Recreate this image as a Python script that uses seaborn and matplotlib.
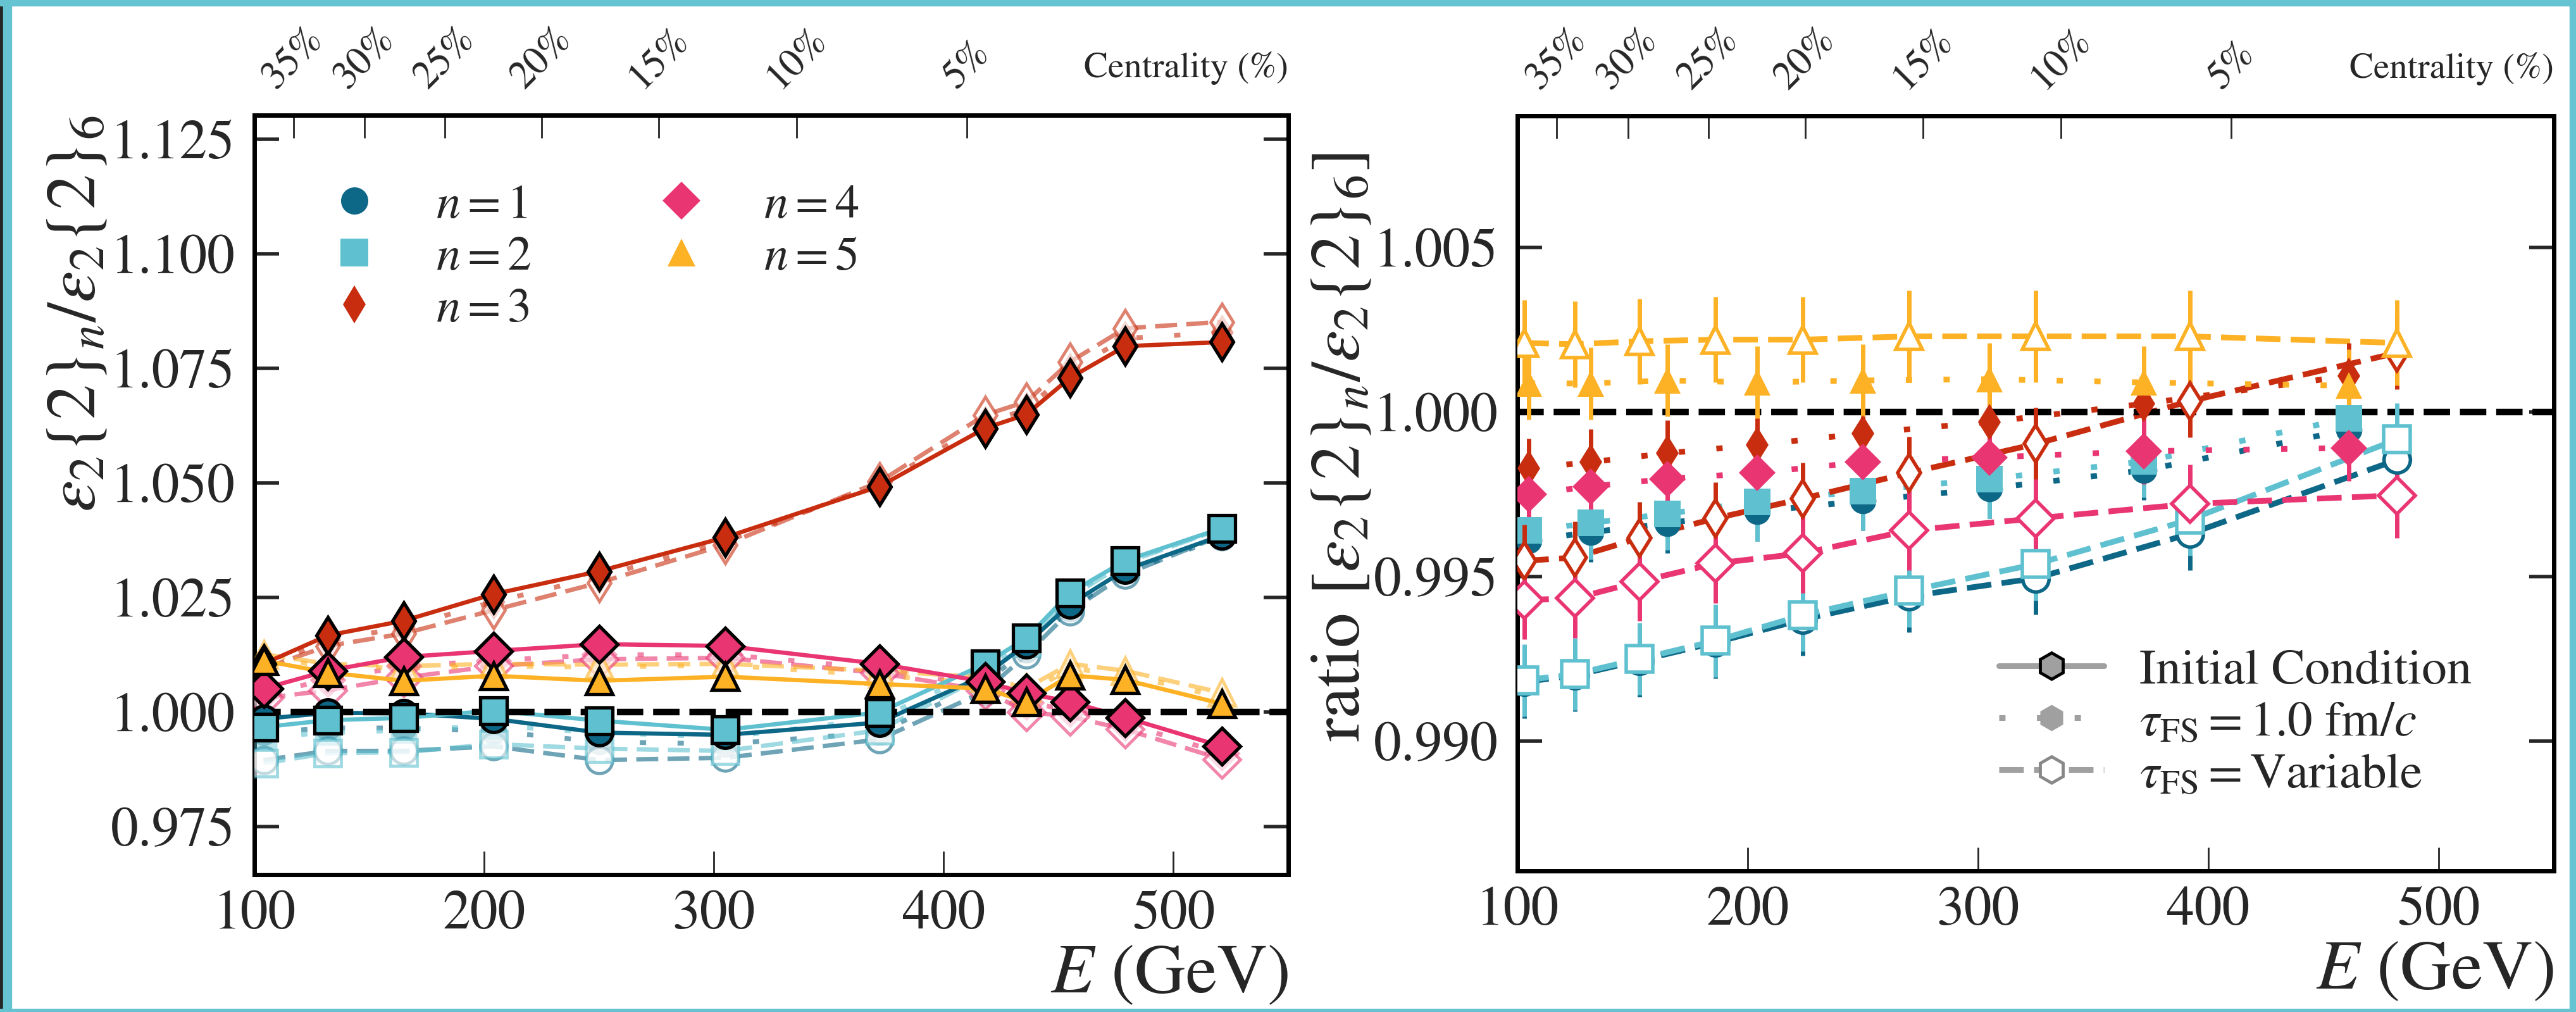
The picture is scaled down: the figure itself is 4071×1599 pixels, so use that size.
import matplotlib
matplotlib.use('Agg')
import matplotlib.pyplot as plt
import seaborn as sns
from matplotlib.lines import Line2D
from matplotlib.patches import Rectangle
from matplotlib.colors import to_rgba

# ---------------- data ----------------
E_left = [104, 132, 165, 204, 250, 305, 372, 418, 436, 455, 479, 521]

n1_ic   = [0.9985, 0.9998, 0.9997, 0.9985, 0.9955, 0.9950, 0.9977, 1.0080, 1.0148, 1.0235, 1.0310, 1.0385]
n1_tau  = [0.9955, 0.9965, 0.9965, 0.9958, 0.9935, 0.9930, 0.9955, 1.0065, 1.0135, 1.0225, 1.0305, 1.0380]
n1_var  = [0.9895, 0.9915, 0.9915, 0.9925, 0.9895, 0.9900, 0.9940, 1.0045, 1.0125, 1.0220, 1.0300, 1.0385]

n2_ic   = [0.9967, 0.9982, 0.9987, 1.0003, 0.9981, 0.9961, 0.9999, 1.0105, 1.0161, 1.0260, 1.0330, 1.0401]
n2_tau  = [0.9945, 0.9955, 0.9960, 0.9970, 0.9955, 0.9945, 0.9985, 1.0095, 1.0155, 1.0255, 1.0328, 1.0400]
n2_var  = [0.9888, 0.9910, 0.9912, 0.9930, 0.9920, 0.9915, 0.9960, 1.0080, 1.0150, 1.0250, 1.0325, 1.0400]

n3_ic   = [1.0105, 1.0167, 1.0199, 1.0257, 1.0307, 1.0381, 1.0492, 1.0619, 1.0649, 1.0729, 1.0798, 1.0807]
n3_tau  = [1.0100, 1.0155, 1.0185, 1.0240, 1.0295, 1.0372, 1.0497, 1.0630, 1.0660, 1.0745, 1.0815, 1.0828]
n3_var  = [1.0095, 1.0144, 1.0171, 1.0222, 1.0282, 1.0365, 1.0502, 1.0648, 1.0677, 1.0764, 1.0837, 1.0851]

n4_ic   = [1.0051, 1.0090, 1.0120, 1.0133, 1.0148, 1.0144, 1.0105, 1.0066, 1.0041, 1.0022, 0.9988, 0.9925]
n4_tau  = [1.0040, 1.0070, 1.0100, 1.0112, 1.0125, 1.0125, 1.0095, 1.0055, 1.0020, 1.0005, 0.9975, 0.9910]
n4_var  = [1.0030, 1.0047, 1.0075, 1.0100, 1.0115, 1.0118, 1.0085, 1.0047, 1.0000, 0.9990, 0.9962, 0.9897]

n5_ic   = [1.0112, 1.0086, 1.0068, 1.0079, 1.0068, 1.0077, 1.0061, 1.0051, 1.0022, 1.0080, 1.0070, 1.0018]
n5_tau  = [1.0118, 1.0100, 1.0095, 1.0100, 1.0098, 1.0102, 1.0080, 1.0062, 1.0040, 1.0095, 1.0082, 1.0032]
n5_var  = [1.0126, 1.0105, 1.0100, 1.0105, 1.0103, 1.0105, 1.0090, 1.0075, 1.0052, 1.0105, 1.0090, 1.0042]

# ratio panel
E_tau = [105, 132, 165, 204, 250, 305, 372, 461]
r1_tau = [0.99610, 0.99635, 0.99662, 0.99698, 0.99730, 0.99768, 0.99823, 0.99946]
r2_tau = [0.99640, 0.99663, 0.99691, 0.99728, 0.99760, 0.99797, 0.99850, 0.99981]
r3_tau = [0.99829, 0.99848, 0.99875, 0.99900, 0.99935, 0.99970, 1.00025, 1.00110]
r4_tau = [0.99751, 0.99774, 0.99797, 0.99815, 0.99848, 0.99862, 0.99881, 0.99891]
r5_tau = [1.00087, 1.00087, 1.00096, 1.00090, 1.00096, 1.00100, 1.00090, 1.00080]
e1_tau = [0.0009, 0.0009, 0.0009, 0.0009, 0.0009, 0.0009, 0.0009, 0.0009]
e2_tau = [0.0011, 0.0011, 0.0011, 0.0012, 0.0012, 0.0012, 0.0011, 0.0011]
e3_tau = [0.0009, 0.0010, 0.0010, 0.0010, 0.0010, 0.0010, 0.0010, 0.0010]
e4_tau = [0.0010, 0.0010, 0.0010, 0.0010, 0.0010, 0.0010, 0.0010, 0.0010]
e5_tau = [0.0011, 0.0011, 0.0011, 0.0011, 0.0011, 0.0011, 0.0011, 0.0011]

E_var = [103, 125, 153, 186, 224, 270, 325, 392, 482]
r1_var = [0.99180, 0.99200, 0.99245, 0.99300, 0.99370, 0.99440, 0.99495, 0.99630, 0.99855]
r2_var = [0.99185, 0.99204, 0.99250, 0.99305, 0.99383, 0.99457, 0.99538, 0.99673, 0.99917]
r3_var = [0.99548, 0.99558, 0.99617, 0.99677, 0.99737, 0.99815, 0.99903, 1.00033, 1.00180]
r4_var = [0.99429, 0.99434, 0.99485, 0.99540, 0.99571, 0.99640, 0.99677, 0.99721, 0.99747]
r5_var = [1.00210, 1.00206, 1.00215, 1.00220, 1.00220, 1.00230, 1.00230, 1.00230, 1.00210]
e1_var = [0.0011, 0.0011, 0.0011, 0.0011, 0.0011, 0.0011, 0.0011, 0.0011, 0.0011]
e2_var = [0.0011, 0.0011, 0.0011, 0.0011, 0.0011, 0.0011, 0.0011, 0.0011, 0.0011]
e3_var = [0.0011, 0.0011, 0.0011, 0.0011, 0.0011, 0.0011, 0.0011, 0.0011, 0.0011]
e4_var = [0.0012, 0.0012, 0.0012, 0.0012, 0.0012, 0.0012, 0.0012, 0.0012, 0.0013]
e5_var = [0.0013, 0.0013, 0.0013, 0.0013, 0.0013, 0.0014, 0.0014, 0.0014, 0.0013]

cent_E = [117, 148, 183, 225, 276, 336, 410]
cent_labels = ['35%', '30%', '25%', '20%', '15%', '10%', '5%']

n_values = [1, 2, 3, 4, 5]
colors = ['#0d6786', '#5fc1d0', '#c92d0f', '#e93572', '#fdb124']
markers = ['o', 's', 'd', 'D', '^']

left_ic = [n1_ic, n2_ic, n3_ic, n4_ic, n5_ic]
left_tau = [n1_tau, n2_tau, n3_tau, n4_tau, n5_tau]
left_var = [n1_var, n2_var, n3_var, n4_var, n5_var]
right_tau = [r1_tau, r2_tau, r3_tau, r4_tau, r5_tau]
right_tau_err = [e1_tau, e2_tau, e3_tau, e4_tau, e5_tau]
right_var = [r1_var, r2_var, r3_var, r4_var, r5_var]
right_var_err = [e1_var, e2_var, e3_var, e4_var, e5_var]

# ---------------- style ----------------
sns.set_theme(style='ticks')
plt.rcParams['font.family'] = ['STIXGeneral', 'DejaVu Serif']
plt.rcParams['mathtext.fontset'] = 'stix'
plt.rcParams['axes.linewidth'] = 5
plt.rcParams['lines.dash_capstyle'] = 'butt'

W, H = 4071, 1599
fig = plt.figure(figsize=(W / 100, H / 100), dpi=100)
fig.patch.set_facecolor('white')

axL = fig.add_axes([402 / W, 1 - 1382 / H, 1634 / W, 1200 / H])
axR = fig.add_axes([2398 / W, 1 - 1376 / H, 1638 / W, 1193 / H])

TICK_FS = 63
LABEL_FS = 80
XLABEL_FS = 80
DOT = (0, (1.3, 6.5))
DASH = (0, (5, 2.1))
DOT_R = (0, (1.1, 5.5))
DASH_R = (0, (4.3, 1.8))

def sline(ax, x, y, color, ls, lw, alpha=1.0, z=2):
    sns.lineplot(x=x, y=y, ax=ax, color=color, linestyle=ls, linewidth=lw,
                 alpha=alpha, zorder=z, legend=False, estimator=None, sort=False)

# ---------------- left panel ----------------
for i, n in enumerate(n_values):
    c = colors[i]
    m = markers[i]
    light = to_rgba(c, 0.6)
    sline(axL, E_left, left_tau[i], c, DOT, 5.5, alpha=0.6, z=2)
    sline(axL, E_left, left_var[i], c, DASH, 5.0, alpha=0.6, z=2)
    axL.plot(E_left, left_tau[i], ls='none', marker=m, ms=30, mfc=to_rgba(c, 0.45),
             mec='none', zorder=3)
    axL.plot(E_left, left_var[i], ls='none', marker=m, ms=30, mfc=to_rgba('white', 0.6),
             mec=light, mew=3.5, zorder=3)

for i, n in enumerate(n_values):
    sline(axL, E_left, left_ic[i], colors[i], '-', 4.8, z=5)

axL.axhline(1.0, color='black', lw=7.5, ls=(0, (4, 1.5)), zorder=5.5)

for i, n in enumerate(n_values):
    axL.plot(E_left, left_ic[i], ls='none', marker=markers[i], ms=30,
             mfc=colors[i], mec='black', mew=3.8, zorder=6)

axL.set_xlim(100, 550)
axL.set_ylim(0.9645, 1.1302)
axL.set_xticks([100, 200, 300, 400, 500])
axL.set_yticks([0.975, 1.000, 1.025, 1.050, 1.075, 1.100, 1.125])
axL.set_yticklabels(['0.975', '1.000', '1.025', '1.050', '1.075', '1.100', '1.125'])
axL.set_ylabel(r'$\varepsilon_2\{2\}_n/\varepsilon_2\{2\}_6$', fontsize=LABEL_FS, loc='top')
axL.yaxis.set_label_coords(-0.140, 1.0)

handlesL = [Line2D([], [], ls='none', marker=markers[i], ms=31, mfc=colors[i],
                   mec=colors[i], mew=0) for i in range(5)]
labelsL = [rf'$n = {n}$' for n in n_values]
axL.legend(handlesL, labelsL, ncol=2, loc='upper left', bbox_to_anchor=(0.045, 0.935),
           frameon=False, fontsize=55, handlelength=1.4, handletextpad=1.0,
           columnspacing=2.4, labelspacing=0.15, borderaxespad=0.0)

# ---------------- right panel ----------------
for i, n in enumerate(n_values):
    c = colors[i]
    sline(axR, E_tau, right_tau[i], c, DOT_R, 6.5, z=2)
    sline(axR, E_var, right_var[i], c, DASH_R, 6.5, z=2)

for i, n in enumerate(n_values):
    c = colors[i]
    axR.errorbar(E_tau, right_tau[i], yerr=right_tau_err[i], fmt=markers[i], ms=30,
                 color=c, mfc=c, mec=c, mew=0, elinewidth=5, capsize=0, zorder=4)
for i, n in enumerate(n_values):
    c = colors[i]
    axR.errorbar(E_var, right_var[i], yerr=right_var_err[i], fmt=markers[i], ms=30,
                 color=c, mfc='white', mec=c, mew=4, elinewidth=5, capsize=0, zorder=5)

axR.axhline(1.0, color='black', lw=7.5, ls=(0, (4, 1.5)), zorder=3)

axR.set_xlim(100, 550)
axR.set_ylim(0.98606, 1.0090)
axR.set_xticks([100, 200, 300, 400, 500])
axR.set_yticks([0.990, 0.995, 1.000, 1.005])
axR.set_yticklabels(['0.990', '0.995', '1.000', '1.005'])
axR.set_ylabel(r'ratio $[\varepsilon_2\{2\}_n/\varepsilon_2\{2\}_6]$', fontsize=LABEL_FS)
axR.yaxis.set_label_coords(-0.138, 0.561)

gray = '#a0a0a0'
handlesR = [
    Line2D([], [], color=gray, lw=6.5, ls='-', marker='h', ms=30, mfc=gray, mec='black', mew=3.5),
    Line2D([], [], color=gray, lw=6.5, ls=DOT_R, marker='h', ms=30, mfc=gray, mec=gray, mew=0),
    Line2D([], [], color=gray, lw=6.5, ls=DASH_R, marker='h', ms=30, mfc='white', mec='#888888', mew=3.5),
]
labelsR = ['Initial Condition', r'$\tau_{\mathrm{FS}} = 1.0\ \mathrm{fm}/c$',
           r'$\tau_{\mathrm{FS}} = \mathrm{Variable}$']
axR.legend(handlesR, labelsR, loc='lower right', bbox_to_anchor=(0.94, 0.07),
           frameon=False, fontsize=57, handlelength=2.1, handletextpad=0.7,
           labelspacing=0.12, borderaxespad=0.0)

# ---------------- common axes styling ----------------
for ax in (axL, axR):
    ax.set_xlabel(r'$E$ (GeV)', fontsize=XLABEL_FS, loc='right', labelpad=4)
    ax.tick_params(axis='both', which='major', direction='in', labelsize=TICK_FS,
                   top=False, right=True)
    ax.tick_params(axis='x', length=27, width=2, pad=18)
    ax.tick_params(axis='y', length=28, width=4, pad=22)
    for sp in ax.spines.values():
        sp.set_visible(True)
        sp.set_linewidth(5)
        sp.set_color('black')
    sec = ax.secondary_xaxis('top')
    sec.set_xticks(cent_E)
    sec.set_xticklabels(cent_labels)
    sec.tick_params(direction='in', length=26, width=2, pad=22, labelsize=45,
                    labelrotation=45)
    sec.spines['top'].set_linewidth(5)
    ax.text(1.0, 1.062, 'Centrality (%)', transform=ax.transAxes, ha='right',
            va='center', fontsize=41)

# ---------------- figure frame ----------------
teal = '#66c4d2'
fig.add_artist(Rectangle((0, 0), 5 / W, 1, transform=fig.transFigure, color='#262626', zorder=10))
fig.add_artist(Rectangle((5 / W, 0), 13 / W, 1, transform=fig.transFigure, color=teal, zorder=10))
fig.add_artist(Rectangle((0, 1 - 9 / H), 1, 9 / H, transform=fig.transFigure, color=teal, zorder=10))
fig.add_artist(Rectangle((0, 0), 1, 5 / H, transform=fig.transFigure, color=teal, zorder=10))
fig.add_artist(Rectangle((1 - 10 / W, 0), 10 / W, 1, transform=fig.transFigure, color=teal, zorder=10))

fig.savefig('out.png', dpi=100, facecolor='white')
